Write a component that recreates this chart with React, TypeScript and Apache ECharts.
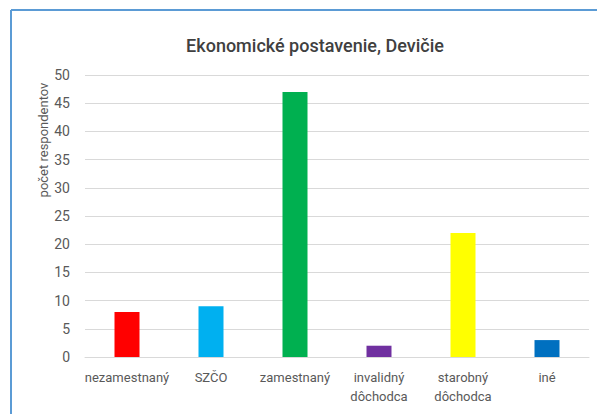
import React, { useEffect, useRef } from "react";
import * as echarts from "echarts";

const title = "Ekonomické postavenie, Devičie";
const yAxisName = "počet respondentov";
const categories = ["nezamestnaný", "SZČO", "zamestnaný", "invalidný\ndôchodca", "starobný\ndôchodca", "iné"];
const values = [8, 9, 47, 2, 22, 3];
const colors = ["#FF0000", "#00B0F0", "#00B050", "#7030A0", "#FFFF00", "#0070C0"];

const FONT = "'Liberation Sans Narrow', 'Arial Narrow', Roboto, sans-serif";

export default function App() {
  const ref = useRef<HTMLDivElement>(null);
  useEffect(() => {
    if (!ref.current) return;
    const chart = echarts.init(ref.current, null, { renderer: "svg" });
    chart.setOption({
      animation: false,
      backgroundColor: "#ffffff",
      title: {
        text: title,
        left: 310,
        textAlign: "center",
        top: 31,
        textStyle: { fontFamily: FONT, fontSize: 18, fontWeight: 500, color: "#404040" },
      },
      grid: { left: 85, right: 8, top: 75, bottom: 57 },
      xAxis: {
        type: "category",
        data: categories,
        axisLine: { show: true, lineStyle: { color: "#D9D9D9", width: 1 } },
        axisTick: { show: false },
        axisLabel: { interval: 0, fontFamily: FONT, fontSize: 13, color: "#595959", margin: 11, lineHeight: 19 },
      },
      yAxis: {
        type: "value",
        min: 0,
        max: 50,
        interval: 5,
        axisLine: { show: false },
        axisTick: { show: false },
        splitLine: { lineStyle: { color: "#D9D9D9", width: 1 } },
        axisLabel: { fontFamily: FONT, fontSize: 14, color: "#595959", margin: 15 },
      },
      graphic: [
        { type: "line", shape: { x1: 11, y1: 10, x2: 597, y2: 10 }, style: { stroke: "#5B9BD5", lineWidth: 2 } },
        { type: "line", shape: { x1: 11, y1: 10, x2: 11, y2: 414 }, style: { stroke: "#5B9BD5", lineWidth: 2 } },
        {
          type: "text",
          x: 43,
          y: 140,
          rotation: Math.PI / 2,
          style: {
            text: yAxisName,
            fontFamily: FONT,
            fontSize: 13,
            fill: "#595959",
            textAlign: "center",
            textVerticalAlign: "middle",
          },
        },
      ],
      series: [
        {
          type: "bar",
          barWidth: 25,
          data: values.map((v, i) => ({ value: v, itemStyle: { color: colors[i] } })),
        },
      ],
    });
    return () => chart.dispose();
  }, []);
  return <div ref={ref} style={{ position: "fixed", left: 0, top: 0, width: 597, height: 414 }} />;
}
